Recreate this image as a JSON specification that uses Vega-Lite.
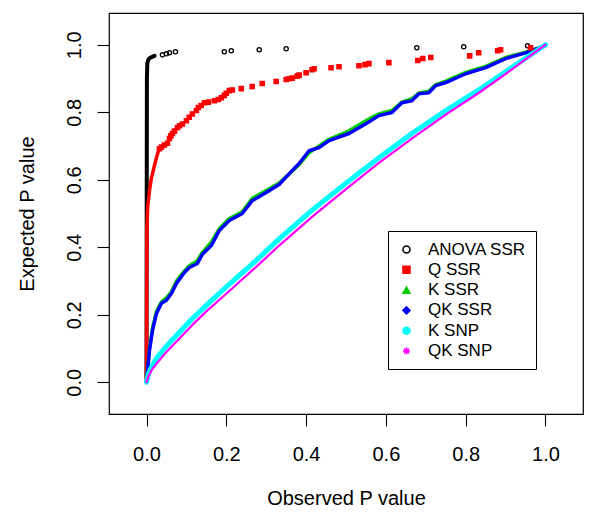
{
  "$schema": "https://vega.github.io/schema/vega-lite/v6.json",
  "width": 474,
  "height": 401,
  "autosize": {"type": "none"},
  "padding": {"left": 109, "top": 13, "right": 17, "bottom": 104},
  "background": "white",
  "config": {
    "view": {"stroke": "black", "strokeWidth": 1.2},
    "font": "Liberation Sans",
    "axis": {
      "domain": false, "grid": false, "tickColor": "black", "tickWidth": 1.1, "tickSize": 12,
      "labelFont": "Liberation Sans", "labelFontSize": 20, "labelColor": "black",
      "titleFont": "Liberation Sans", "titleFontSize": 20, "titleFontWeight": "normal", "titleColor": "black"
    },
    "legend": {
      "strokeColor": "black", "fillColor": "white", "padding": 10,
      "labelFont": "Liberation Sans", "labelFontSize": 17, "labelColor": "black",
      "symbolSize": 50, "symbolStrokeWidth": 1.5, "rowPadding": 2.3, "labelOffset": 13
    }
  },
  "datasets": {
    "dense": [
      {"series": "ANOVA SSR", "obs": 0, "exp": 0},
      {"series": "ANOVA SSR", "obs": 0.0005, "exp": 0.5},
      {"series": "ANOVA SSR", "obs": 0.001, "exp": 0.9},
      {"series": "ANOVA SSR", "obs": 0.002, "exp": 0.945},
      {"series": "ANOVA SSR", "obs": 0.005, "exp": 0.957},
      {"series": "ANOVA SSR", "obs": 0.01, "exp": 0.962},
      {"series": "ANOVA SSR", "obs": 0.02, "exp": 0.967},

      {"series": "Q SSR", "obs": 0, "exp": 0},
      {"series": "Q SSR", "obs": 0.0005, "exp": 0.3},
      {"series": "Q SSR", "obs": 0.001, "exp": 0.45},
      {"series": "Q SSR", "obs": 0.003, "exp": 0.52},
      {"series": "Q SSR", "obs": 0.0075, "exp": 0.568},
      {"series": "Q SSR", "obs": 0.0125, "exp": 0.607},
      {"series": "Q SSR", "obs": 0.015, "exp": 0.618},
      {"series": "Q SSR", "obs": 0.025, "exp": 0.666},
      {"series": "Q SSR", "obs": 0.03, "exp": 0.685},

      {"series": "K SSR", "obs": 0, "exp": 0},
      {"series": "K SSR", "obs": 0.0075, "exp": 0.1},
      {"series": "K SSR", "obs": 0.015, "exp": 0.16},
      {"series": "K SSR", "obs": 0.025, "exp": 0.21},
      {"series": "K SSR", "obs": 0.0375, "exp": 0.238},
      {"series": "K SSR", "obs": 0.05, "exp": 0.25},
      {"series": "K SSR", "obs": 0.0625, "exp": 0.268},
      {"series": "K SSR", "obs": 0.075, "exp": 0.3},
      {"series": "K SSR", "obs": 0.095, "exp": 0.33},
      {"series": "K SSR", "obs": 0.1075, "exp": 0.345},
      {"series": "K SSR", "obs": 0.1275, "exp": 0.36},
      {"series": "K SSR", "obs": 0.14, "exp": 0.385},
      {"series": "K SSR", "obs": 0.1625, "exp": 0.415},
      {"series": "K SSR", "obs": 0.1825, "exp": 0.455},
      {"series": "K SSR", "obs": 0.2075, "exp": 0.485},
      {"series": "K SSR", "obs": 0.24, "exp": 0.505},
      {"series": "K SSR", "obs": 0.265, "exp": 0.545},
      {"series": "K SSR", "obs": 0.3, "exp": 0.568},
      {"series": "K SSR", "obs": 0.3325, "exp": 0.59},
      {"series": "K SSR", "obs": 0.365, "exp": 0.625},
      {"series": "K SSR", "obs": 0.3825, "exp": 0.645},
      {"series": "K SSR", "obs": 0.4075, "exp": 0.68},
      {"series": "K SSR", "obs": 0.4325, "exp": 0.7},
      {"series": "K SSR", "obs": 0.4575, "exp": 0.72},
      {"series": "K SSR", "obs": 0.5075, "exp": 0.745},
      {"series": "K SSR", "obs": 0.55, "exp": 0.775},
      {"series": "K SSR", "obs": 0.5825, "exp": 0.795},
      {"series": "K SSR", "obs": 0.615, "exp": 0.805},
      {"series": "K SSR", "obs": 0.64, "exp": 0.83},
      {"series": "K SSR", "obs": 0.665, "exp": 0.84},
      {"series": "K SSR", "obs": 0.6825, "exp": 0.857},
      {"series": "K SSR", "obs": 0.7075, "exp": 0.862},
      {"series": "K SSR", "obs": 0.725, "exp": 0.882},
      {"series": "K SSR", "obs": 0.75, "exp": 0.892},
      {"series": "K SSR", "obs": 0.8, "exp": 0.918},
      {"series": "K SSR", "obs": 0.85, "exp": 0.936},
      {"series": "K SSR", "obs": 0.9, "exp": 0.962},
      {"series": "K SSR", "obs": 0.95, "exp": 0.978},
      {"series": "K SSR", "obs": 1.0, "exp": 0.997},

      {"series": "QK SSR", "obs": 0, "exp": 0},
      {"series": "QK SSR", "obs": 0.0075, "exp": 0.095},
      {"series": "QK SSR", "obs": 0.015, "exp": 0.154},
      {"series": "QK SSR", "obs": 0.025, "exp": 0.204},
      {"series": "QK SSR", "obs": 0.0375, "exp": 0.234},
      {"series": "QK SSR", "obs": 0.05, "exp": 0.243},
      {"series": "QK SSR", "obs": 0.0625, "exp": 0.263},
      {"series": "QK SSR", "obs": 0.075, "exp": 0.293},
      {"series": "QK SSR", "obs": 0.095, "exp": 0.325},
      {"series": "QK SSR", "obs": 0.1075, "exp": 0.34},
      {"series": "QK SSR", "obs": 0.1275, "exp": 0.352},
      {"series": "QK SSR", "obs": 0.14, "exp": 0.379},
      {"series": "QK SSR", "obs": 0.1625, "exp": 0.405},
      {"series": "QK SSR", "obs": 0.1825, "exp": 0.45},
      {"series": "QK SSR", "obs": 0.2075, "exp": 0.479},
      {"series": "QK SSR", "obs": 0.24, "exp": 0.5},
      {"series": "QK SSR", "obs": 0.265, "exp": 0.538},
      {"series": "QK SSR", "obs": 0.3, "exp": 0.562},
      {"series": "QK SSR", "obs": 0.3325, "exp": 0.586},
      {"series": "QK SSR", "obs": 0.365, "exp": 0.627},
      {"series": "QK SSR", "obs": 0.3825, "exp": 0.648},
      {"series": "QK SSR", "obs": 0.4075, "exp": 0.686},
      {"series": "QK SSR", "obs": 0.4325, "exp": 0.695},
      {"series": "QK SSR", "obs": 0.4575, "exp": 0.716},
      {"series": "QK SSR", "obs": 0.5075, "exp": 0.737},
      {"series": "QK SSR", "obs": 0.55, "exp": 0.766},
      {"series": "QK SSR", "obs": 0.5825, "exp": 0.79},
      {"series": "QK SSR", "obs": 0.615, "exp": 0.799},
      {"series": "QK SSR", "obs": 0.64, "exp": 0.828},
      {"series": "QK SSR", "obs": 0.665, "exp": 0.834},
      {"series": "QK SSR", "obs": 0.6825, "exp": 0.855},
      {"series": "QK SSR", "obs": 0.7075, "exp": 0.858},
      {"series": "QK SSR", "obs": 0.725, "exp": 0.879},
      {"series": "QK SSR", "obs": 0.75, "exp": 0.888},
      {"series": "QK SSR", "obs": 0.8, "exp": 0.914},
      {"series": "QK SSR", "obs": 0.85, "exp": 0.932},
      {"series": "QK SSR", "obs": 0.9, "exp": 0.959},
      {"series": "QK SSR", "obs": 0.95, "exp": 0.976},
      {"series": "QK SSR", "obs": 1.0, "exp": 0.997},

      {"series": "K SNP", "obs": 0, "exp": 0},
      {"series": "K SNP", "obs": 0.005, "exp": 0.025},
      {"series": "K SNP", "obs": 0.0125, "exp": 0.045},
      {"series": "K SNP", "obs": 0.025, "exp": 0.071},
      {"series": "K SNP", "obs": 0.05, "exp": 0.107},
      {"series": "K SNP", "obs": 0.0825, "exp": 0.148},
      {"series": "K SNP", "obs": 0.115, "exp": 0.189},
      {"series": "K SNP", "obs": 0.15, "exp": 0.228},
      {"series": "K SNP", "obs": 0.19, "exp": 0.272},
      {"series": "K SNP", "obs": 0.2325, "exp": 0.317},
      {"series": "K SNP", "obs": 0.275, "exp": 0.361},
      {"series": "K SNP", "obs": 0.3325, "exp": 0.425},
      {"series": "K SNP", "obs": 0.415, "exp": 0.51},
      {"series": "K SNP", "obs": 0.5, "exp": 0.59},
      {"series": "K SNP", "obs": 0.5825, "exp": 0.665},
      {"series": "K SNP", "obs": 0.665, "exp": 0.737},
      {"series": "K SNP", "obs": 0.75, "exp": 0.805},
      {"series": "K SNP", "obs": 0.8325, "exp": 0.866},
      {"series": "K SNP", "obs": 0.915, "exp": 0.932},
      {"series": "K SNP", "obs": 1.0, "exp": 1.0},

      {"series": "QK SNP", "obs": 0, "exp": 0},
      {"series": "QK SNP", "obs": 0.005, "exp": 0.018},
      {"series": "QK SNP", "obs": 0.0125, "exp": 0.035},
      {"series": "QK SNP", "obs": 0.025, "exp": 0.055},
      {"series": "QK SNP", "obs": 0.05, "exp": 0.09},
      {"series": "QK SNP", "obs": 0.0825, "exp": 0.13},
      {"series": "QK SNP", "obs": 0.115, "exp": 0.17},
      {"series": "QK SNP", "obs": 0.15, "exp": 0.21},
      {"series": "QK SNP", "obs": 0.19, "exp": 0.252},
      {"series": "QK SNP", "obs": 0.2325, "exp": 0.297},
      {"series": "QK SNP", "obs": 0.275, "exp": 0.342},
      {"series": "QK SNP", "obs": 0.3325, "exp": 0.405},
      {"series": "QK SNP", "obs": 0.415, "exp": 0.49},
      {"series": "QK SNP", "obs": 0.5, "exp": 0.572},
      {"series": "QK SNP", "obs": 0.5825, "exp": 0.65},
      {"series": "QK SNP", "obs": 0.665, "exp": 0.722},
      {"series": "QK SNP", "obs": 0.75, "exp": 0.793},
      {"series": "QK SNP", "obs": 0.8325, "exp": 0.857},
      {"series": "QK SNP", "obs": 0.915, "exp": 0.926},
      {"series": "QK SNP", "obs": 1.0, "exp": 1.0}
    ],
    "sparse": [
      {"series": "ANOVA SSR", "obs": 0.04, "exp": 0.97},
      {"series": "ANOVA SSR", "obs": 0.05, "exp": 0.973},
      {"series": "ANOVA SSR", "obs": 0.0575, "exp": 0.976},
      {"series": "ANOVA SSR", "obs": 0.0725, "exp": 0.979},
      {"series": "ANOVA SSR", "obs": 0.195, "exp": 0.979},
      {"series": "ANOVA SSR", "obs": 0.2125, "exp": 0.982},
      {"series": "ANOVA SSR", "obs": 0.2825, "exp": 0.985},
      {"series": "ANOVA SSR", "obs": 0.35, "exp": 0.988},
      {"series": "ANOVA SSR", "obs": 0.6775, "exp": 0.991},
      {"series": "ANOVA SSR", "obs": 0.795, "exp": 0.994},
      {"series": "ANOVA SSR", "obs": 0.955, "exp": 0.997},

      {"series": "Q SSR", "obs": 0.0325, "exp": 0.692},
      {"series": "Q SSR", "obs": 0.0375, "exp": 0.697},
      {"series": "Q SSR", "obs": 0.045, "exp": 0.703},
      {"series": "Q SSR", "obs": 0.0525, "exp": 0.708},
      {"series": "Q SSR", "obs": 0.0575, "exp": 0.722},
      {"series": "Q SSR", "obs": 0.061, "exp": 0.73},
      {"series": "Q SSR", "obs": 0.065, "exp": 0.737},
      {"series": "Q SSR", "obs": 0.07, "exp": 0.744},
      {"series": "Q SSR", "obs": 0.0775, "exp": 0.754},
      {"series": "Q SSR", "obs": 0.083, "exp": 0.76},
      {"series": "Q SSR", "obs": 0.09, "exp": 0.765},
      {"series": "Q SSR", "obs": 0.1, "exp": 0.775},
      {"series": "Q SSR", "obs": 0.107, "exp": 0.785},
      {"series": "Q SSR", "obs": 0.115, "exp": 0.795},
      {"series": "Q SSR", "obs": 0.125, "exp": 0.805},
      {"series": "Q SSR", "obs": 0.13, "exp": 0.814},
      {"series": "Q SSR", "obs": 0.137, "exp": 0.82},
      {"series": "Q SSR", "obs": 0.145, "exp": 0.828},
      {"series": "Q SSR", "obs": 0.155, "exp": 0.83},
      {"series": "Q SSR", "obs": 0.17, "exp": 0.834},
      {"series": "Q SSR", "obs": 0.18, "exp": 0.838},
      {"series": "Q SSR", "obs": 0.1875, "exp": 0.843},
      {"series": "Q SSR", "obs": 0.195, "exp": 0.85},
      {"series": "Q SSR", "obs": 0.2, "exp": 0.856},
      {"series": "Q SSR", "obs": 0.2075, "exp": 0.864},
      {"series": "Q SSR", "obs": 0.215, "exp": 0.866},
      {"series": "Q SSR", "obs": 0.2375, "exp": 0.87},
      {"series": "Q SSR", "obs": 0.265, "exp": 0.876},
      {"series": "Q SSR", "obs": 0.29, "exp": 0.885},
      {"series": "Q SSR", "obs": 0.325, "exp": 0.891},
      {"series": "Q SSR", "obs": 0.35, "exp": 0.897},
      {"series": "Q SSR", "obs": 0.3575, "exp": 0.899},
      {"series": "Q SSR", "obs": 0.365, "exp": 0.901},
      {"series": "Q SSR", "obs": 0.3775, "exp": 0.907},
      {"series": "Q SSR", "obs": 0.3825, "exp": 0.91},
      {"series": "Q SSR", "obs": 0.4, "exp": 0.917},
      {"series": "Q SSR", "obs": 0.415, "exp": 0.926},
      {"series": "Q SSR", "obs": 0.42, "exp": 0.929},
      {"series": "Q SSR", "obs": 0.4625, "exp": 0.932},
      {"series": "Q SSR", "obs": 0.4825, "exp": 0.935},
      {"series": "Q SSR", "obs": 0.5325, "exp": 0.938},
      {"series": "Q SSR", "obs": 0.5475, "exp": 0.941},
      {"series": "Q SSR", "obs": 0.5575, "exp": 0.944},
      {"series": "Q SSR", "obs": 0.6075, "exp": 0.947},
      {"series": "Q SSR", "obs": 0.68, "exp": 0.953},
      {"series": "Q SSR", "obs": 0.6925, "exp": 0.959},
      {"series": "Q SSR", "obs": 0.7125, "exp": 0.962},
      {"series": "Q SSR", "obs": 0.81, "exp": 0.967},
      {"series": "Q SSR", "obs": 0.8325, "exp": 0.976},
      {"series": "Q SSR", "obs": 0.88, "exp": 0.982},
      {"series": "Q SSR", "obs": 0.8875, "exp": 0.985},
      {"series": "Q SSR", "obs": 0.9625, "exp": 0.991}
    ]
  },
  "layer": [
    {
      "data": {"name": "dense"},
      "transform": [{"filter": "datum.series === 'ANOVA SSR'"}],
      "mark": {"type": "line", "color": "#000000", "strokeWidth": 4, "strokeCap": "round", "strokeJoin": "round"},
      "encoding": {
        "x": {"field": "obs", "type": "quantitative", "scale": {"domain": [-0.094, 1.094], "nice": false, "zero": false},
              "axis": {"values": [0, 0.2, 0.4, 0.6, 0.8, 1.0], "format": ".1f", "labelBaseline": "alphabetic", "labelPadding": 34, "title": "Observed P value", "titleY": 90, "titleBaseline": "alphabetic"}},
        "y": {"field": "exp", "type": "quantitative", "scale": {"domain": [-0.094, 1.094], "nice": false, "zero": false},
              "axis": {"values": [0, 0.2, 0.4, 0.6, 0.8, 1.0], "format": ".1f", "labelAngle": 270, "labelAlign": "center", "labelBaseline": "alphabetic", "labelPadding": 17, "title": "Expected P value", "titleAngle": 270, "titleX": -76, "titleBaseline": "alphabetic"}}
      }
    },
    {
      "data": {"name": "dense"},
      "transform": [{"filter": "datum.series === 'Q SSR'"}],
      "mark": {"type": "line", "color": "#FF0000", "strokeWidth": 3.5, "strokeCap": "round", "strokeJoin": "round"},
      "encoding": {"x": {"field": "obs", "type": "quantitative"}, "y": {"field": "exp", "type": "quantitative"}}
    },
    {
      "data": {"name": "dense"},
      "transform": [{"filter": "datum.series === 'K SSR'"}],
      "mark": {"type": "line", "color": "#00CD00", "strokeWidth": 3.5, "strokeCap": "round", "strokeJoin": "round"},
      "encoding": {"x": {"field": "obs", "type": "quantitative"}, "y": {"field": "exp", "type": "quantitative"}}
    },
    {
      "data": {"name": "dense"},
      "transform": [{"filter": "datum.series === 'QK SSR'"}],
      "mark": {"type": "line", "color": "#0000FF", "strokeWidth": 3.5, "strokeCap": "round", "strokeJoin": "round"},
      "encoding": {"x": {"field": "obs", "type": "quantitative"}, "y": {"field": "exp", "type": "quantitative"}}
    },
    {
      "data": {"name": "dense"},
      "transform": [{"filter": "datum.series === 'K SNP'"}],
      "mark": {"type": "line", "color": "#00FFFF", "strokeWidth": 5, "strokeCap": "round", "strokeJoin": "round"},
      "encoding": {"x": {"field": "obs", "type": "quantitative"}, "y": {"field": "exp", "type": "quantitative"}}
    },
    {
      "data": {"name": "dense"},
      "transform": [{"filter": "datum.series === 'QK SNP'"}],
      "mark": {"type": "line", "color": "#FF00FF", "strokeWidth": 2.2, "strokeCap": "round", "strokeJoin": "round"},
      "encoding": {"x": {"field": "obs", "type": "quantitative"}, "y": {"field": "exp", "type": "quantitative"}}
    },
    {
      "data": {"name": "sparse"},
      "mark": {"type": "point", "size": 18, "strokeWidth": 1.3, "opacity": 1},
      "encoding": {
        "x": {"field": "obs", "type": "quantitative"},
        "y": {"field": "exp", "type": "quantitative"},
        "shape": {"field": "series", "type": "nominal",
                  "scale": {"domain": ["ANOVA SSR", "Q SSR", "K SSR", "QK SSR", "K SNP", "QK SNP"], "range": ["circle", "square", "triangle-up", "diamond", "circle", "M-1,0L1,0M0,-1L0,1M-0.7,-0.7L0.7,0.7M-0.7,0.7L0.7,-0.7"]},
                  "legend": {"title": null, "orient": "none", "legendX": 279, "legendY": 218}},
        "fill": {"field": "series", "type": "nominal",
                  "scale": {"domain": ["ANOVA SSR", "Q SSR", "K SSR", "QK SSR", "K SNP", "QK SNP"], "range": ["transparent", "#FF0000", "#00CD00", "#0000FF", "#00FFFF", "#FF00FF"]},
                  "legend": {"title": null, "orient": "none", "legendX": 279, "legendY": 218}},
        "stroke": {"field": "series", "type": "nominal",
                  "scale": {"domain": ["ANOVA SSR", "Q SSR", "K SSR", "QK SSR", "K SNP", "QK SNP"], "range": ["#000000", "#FF0000", "#00CD00", "#0000FF", "#00FFFF", "#FF00FF"]},
                  "legend": {"title": null, "orient": "none", "legendX": 279, "legendY": 218}}
      }
    }
  ]
}
